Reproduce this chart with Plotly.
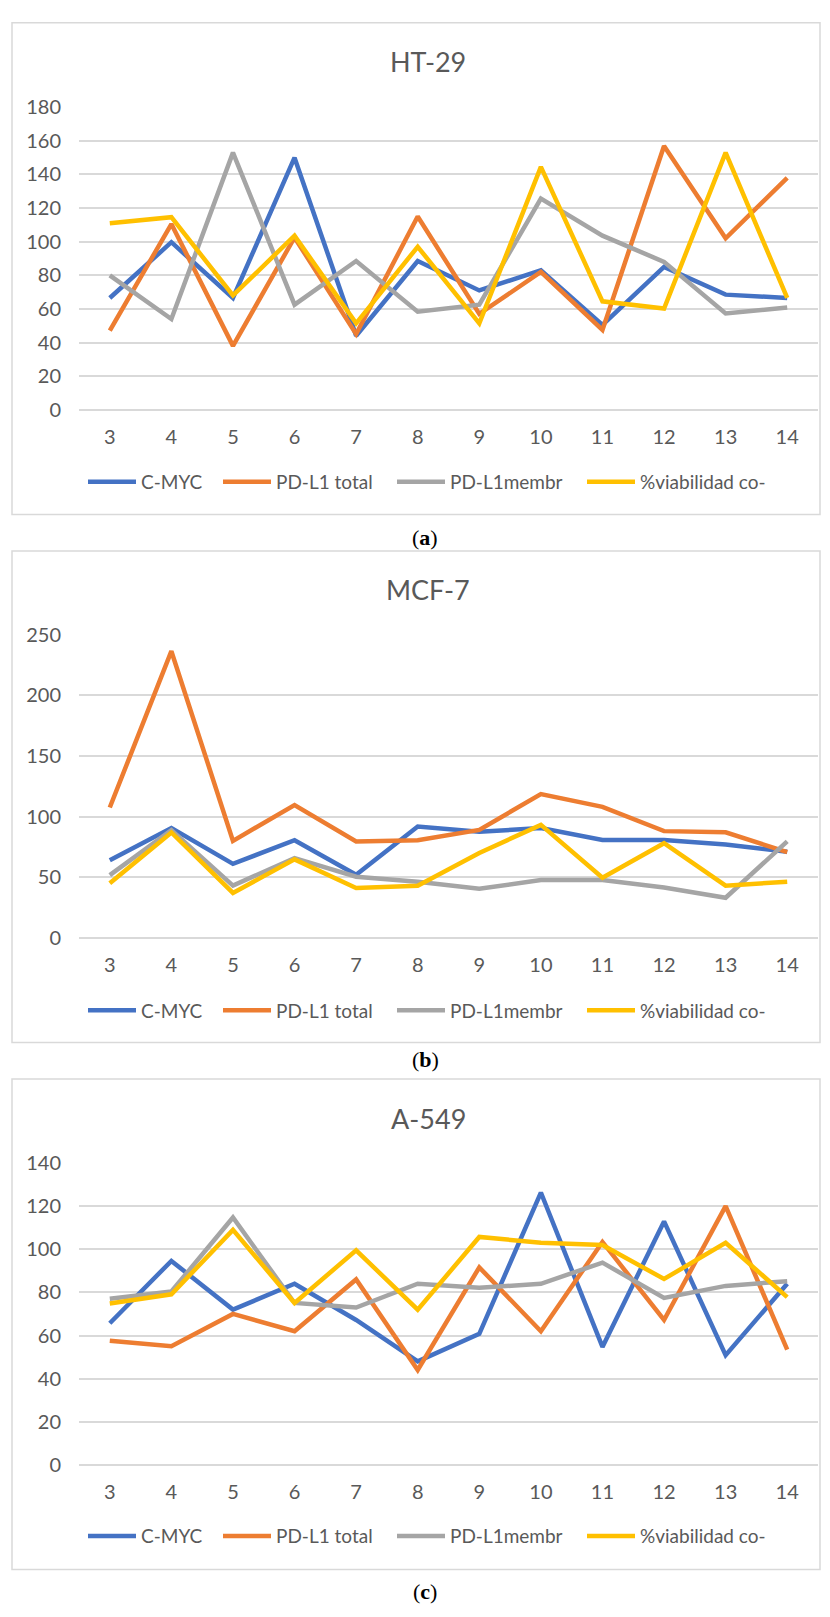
import plotly.graph_objects as go

W, H = 830, 1617

categories = ["3", "4", "5", "6", "7", "8", "9", "10", "11", "12", "13", "14"]
series_names = ["C-MYC", "PD-L1 total", "PD-L1membr", "%viabilidad co-"]
colors = ["#4472C4", "#ED7D31", "#A5A5A5", "#FFC000"]

# (a) HT-29
ht29_cmyc = [66.5, 99.7, 66.5, 150, 44, 88.5, 71, 83, 50.5, 85, 68.5, 66.5]
ht29_pdl1_total = [47, 110.5, 38, 102.5, 45, 115, 57, 82, 47.5, 157, 102, 138]
ht29_pdl1_membr = [80, 54, 153, 62.5, 88.5, 58.3, 62.5, 125.7, 103.6, 88, 57.3, 60.8]
ht29_viab = [111, 114.6, 68, 103.6, 51.4, 97, 51.4, 144.5, 64.5, 60.2, 153, 66.5]

# (b) MCF-7
mcf7_cmyc = [64, 90.5, 61, 80.5, 52, 91.8, 87.5, 90.5, 80.7, 80.7, 77, 71]
mcf7_pdl1_total = [107.5, 236.5, 80, 109.5, 79.5, 80.5, 89, 118.6, 108, 88, 87, 70.7]
mcf7_pdl1_membr = [51.7, 88.8, 43, 65.8, 50.4, 46.3, 40.4, 47.7, 47.7, 41.4, 33, 79.6]
mcf7_viab = [45, 86.9, 37, 64.7, 41, 43, 70, 93.2, 49.6, 78, 43, 46.3]

# (c) A-549
a549_cmyc = [65.7, 94.6, 72, 84, 67.2, 48, 60.8, 126.3, 54.7, 112.9, 50.9, 84]
a549_pdl1_total = [57.6, 55, 70, 62, 86, 44, 91.6, 62, 103.4, 67.2, 120, 53.5]
a549_pdl1_membr = [77, 80.4, 114.7, 75.1, 73, 84, 82.1, 84, 93.8, 77.4, 83, 85.2]
a549_viab = [74.8, 79.1, 109, 75.1, 99.5, 72, 105.7, 103, 102, 86.2, 103, 77.8]

panel_titles = ["HT-29", "MCF-7", "A-549"]
panel_labels = ["a", "b", "c"]
panel_data = [
    [ht29_cmyc, ht29_pdl1_total, ht29_pdl1_membr, ht29_viab],
    [mcf7_cmyc, mcf7_pdl1_total, mcf7_pdl1_membr, mcf7_viab],
    [a549_cmyc, a549_pdl1_total, a549_pdl1_membr, a549_viab],
]
y_max = [180, 250, 140]
y_dtick = [20, 50, 20]

TEXT = "#595959"
GRID = "#D9D9D9"
FONT = "Lato"


def px_x(x):
    return x / W


def px_y(y):
    return 1 - y / H


# layout geometry (pixels)
box_top = [10, 546, 1082]
box_bot = [509, 1045, 1580]
plot_top = [95.7, 631.2, 1167.3]
plot_bot = [402.7, 938.7, 1473.8]
title_y = [49.5, 585.5, 1122]
legend_y = [476, 1012.5, 1546]
label_y = [532, 1062, 1602]
legend_item_x = [93, 228, 402, 592]   # left edge of each legend sample line
PLOT_L, PLOT_R = 79, 818
BOX_L, BOX_R = 12, 820

fig = go.Figure()
layout = dict(
    width=W, height=H,
    margin=dict(l=0, r=0, t=0, b=0),
    paper_bgcolor="white", plot_bgcolor="white",
    font=dict(family=FONT, color=TEXT, size=19),
    shapes=[], annotations=[],
)

for i in range(3):
    sfx = "" if i == 0 else str(i + 1)
    for j in range(4):
        n = i * 4 + j + 1
        leg = "legend" if n == 1 else f"legend{n}"
        fig.add_trace(go.Scatter(
            x=categories, y=panel_data[i][j], mode="lines",
            name=series_names[j],
            line=dict(color=colors[j], width=4.5),
            xaxis="x" + sfx, yaxis="y" + sfx, legend=leg,
            showlegend=True,
        ))
        layout[leg] = dict(
            orientation="h", x=px_x(legend_item_x[j] - 10), xanchor="left",
            y=px_y(legend_y[i]), yanchor="middle",
            font=dict(family=FONT, size=19, color=TEXT),
            itemwidth=48, bgcolor="rgba(0,0,0,0)",
            borderwidth=0,
        )
    layout["xaxis" + sfx] = dict(
        domain=[px_x(PLOT_L), px_x(PLOT_R)],
        anchor="y" + sfx, type="category", range=[-0.5, 11.5],
        showgrid=False, zeroline=False, showline=False,
        ticks="", ticklabelstandoff=13,
        tickfont=dict(family=FONT, size=20, color=TEXT),
    )
    layout["yaxis" + sfx] = dict(
        domain=[px_y(plot_bot[i]), px_y(plot_top[i])],
        anchor="x" + sfx, range=[0, y_max[i]], dtick=y_dtick[i],
        showgrid=True, gridcolor=GRID, gridwidth=1.5,
        zeroline=True, zerolinecolor=GRID, zerolinewidth=1.5,
        showline=False, ticks="", ticklabelstandoff=17,
        tickfont=dict(family=FONT, size=20, color=TEXT),
    )
    layout["shapes"].append(dict(
        type="rect", xref="paper", yref="paper",
        x0=px_x(BOX_L), x1=px_x(BOX_R), y0=px_y(box_bot[i]), y1=px_y(box_top[i]),
        line=dict(color=GRID, width=1.5), fillcolor="rgba(0,0,0,0)", layer="below",
    ))
    layout["annotations"].append(dict(
        text=panel_titles[i], xref="paper", yref="paper",
        x=px_x(428), y=px_y(title_y[i]), xanchor="center", yanchor="middle",
        showarrow=False, font=dict(family=FONT, size=27, color=TEXT),
    ))
    layout["annotations"].append(dict(
        text=f"(<b>{panel_labels[i]}</b>)", xref="paper", yref="paper",
        x=px_x(425), y=px_y(label_y[i]), xanchor="center", yanchor="middle",
        showarrow=False, font=dict(family="Liberation Serif", size=22, color="black"),
    ))

fig.update_layout(**layout)
fig.write_html(
    "out.html",
    config={"displayModeBar": False},
    post_script="document.body.style.margin='0px';",
)
